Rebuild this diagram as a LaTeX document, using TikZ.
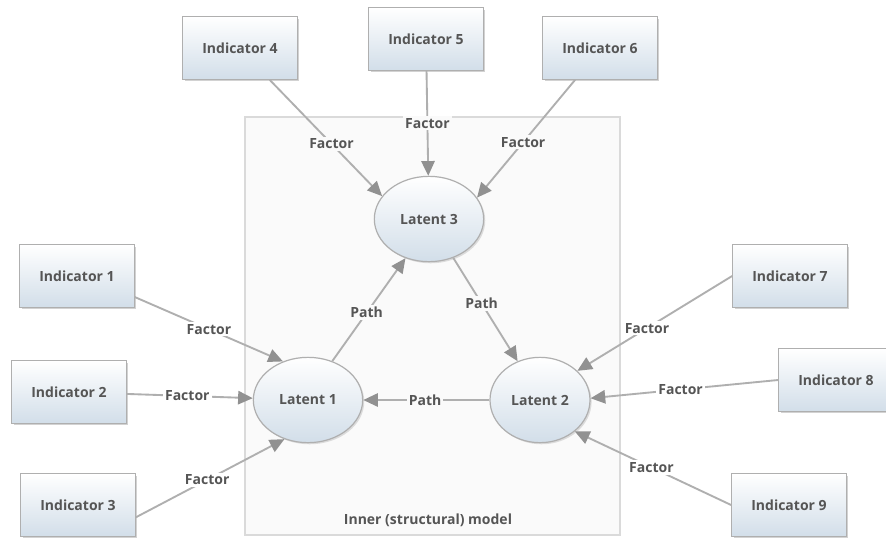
\documentclass[tikz,border=0pt]{standalone}
\usepackage{fontspec}
\setmainfont{Open Sans}
\usetikzlibrary{shapes.geometric}
\usetikzlibrary{arrows.meta}
\usetikzlibrary{shadows}
\definecolor{line1}{RGB}{175, 175, 175}
\definecolor{tip1}{RGB}{145, 145, 145}
\definecolor{text1}{RGB}{85, 85, 85}
\definecolor{blue1}{RGB}{210, 222, 233}
\definecolor{frame1}{RGB}{218, 218, 218}
\definecolor{bg1}{RGB}{250, 250, 250}

\tikzset{
  indicator/.style={rectangle, draw=line1, line width=0.8pt, top color=white, bottom color=blue1,
    minimum width=86pt, minimum height=47pt, drop shadow={opacity=0.35, shadow xshift=1.5pt, shadow yshift=-1.5pt}},
  latent/.style={ellipse, draw=line1, line width=0.9pt, top color=white, bottom color=blue1,
    minimum height=64pt, drop shadow={opacity=0.25, shadow xshift=1.2pt, shadow yshift=-1.2pt}},
  link/.style={draw=line1, line width=1.4pt, -{Triangle[length=11pt,width=10pt,color=tip1]}},
  lbl/.style={fill=white, inner sep=1.5pt, text=text1, font=\fontsize{10.5}{12}\selectfont\bfseries},
  lblin/.style={lbl, fill=bg1}
}

\begin{document}
\begin{tikzpicture}[x=0.75pt, y=-0.75pt, font=\fontsize{10.5}{12}\selectfont\bfseries, text=text1]
  \useasboundingbox (0,0) rectangle (886,537);
  \fill[white] (0,0) rectangle (886,537);

  % inner model frame
  \draw[frame1, line width=2.2pt, fill=bg1] (245,117) rectangle (620,535);
  \node (inner) at (428,520) {Inner (structural) model};

  % latent variables
  \node[latent, minimum width=82pt] (l3) at (429,219) {Latent 3};
  \node[latent, minimum width=82pt] (l1) at (308,400) {Latent 1};
  \node[latent, minimum width=75pt] (l2) at (540,400) {Latent 2};

  % indicators
  \node[indicator] (i1) at (77,276) {Indicator 1};
  \node[indicator] (i2) at (69,392) {Indicator 2};
  \node[indicator] (i3) at (78,505) {Indicator 3};
  \node[indicator] (i4) at (240,48) {Indicator 4};
  \node[indicator] (i5) at (426,39) {Indicator 5};
  \node[indicator] (i6) at (600,48) {Indicator 6};
  \node[indicator] (i7) at (790,276) {Indicator 7};
  \node[indicator] (i8) at (836,380) {Indicator 8};
  \node[indicator] (i9) at (789,505) {Indicator 9};

  % outer (measurement) links
  \foreach \from/\to/\p in {i1.-20/l1.123/0.5, i2/l1/0.48, i3.-12/l1.239/0.48,
      i7.west/l2.38/0.55, i8.west/l2.2/0.52, i9.west/l2.-42/0.51}
   \draw[link] (\from) -- node[lbl, pos=\p] {Factor} (\to);
  \foreach \from/\to/\p in {i4.-47/l3.154/0.55, i5/l3/0.5, i6.232/l3.24/0.53}
   \draw[link] (\from) -- node[lblin, pos=\p] {Factor} (\to);

  % inner (structural) paths
  \foreach \from/\to/\p in {l1.58/l3.239/0.47, l3.302/l2.120/0.44, l2/l1/0.51}
   \draw[link] (\from) -- node[lblin, pos=\p] {Path} (\to);
\end{tikzpicture}
\end{document}
